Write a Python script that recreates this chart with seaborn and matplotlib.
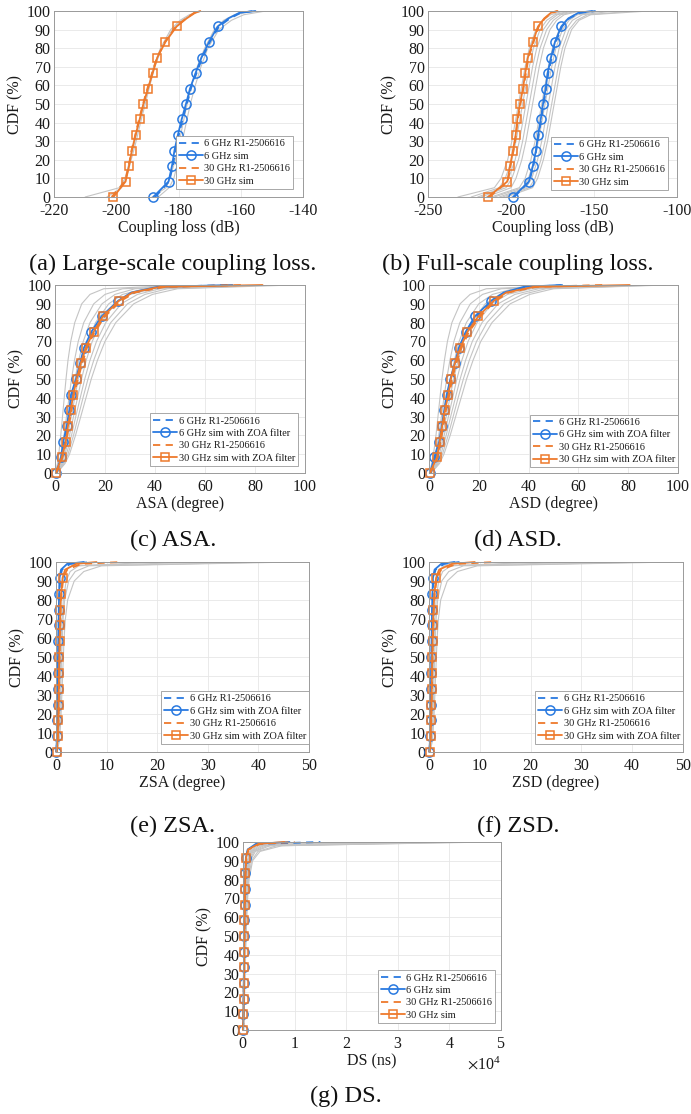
import matplotlib
matplotlib.use("Agg")
import matplotlib.pyplot as plt
import pandas as pd
import seaborn as sns

# ---------------- data ----------------
CDF_LEVELS = [0, 8.33, 16.67, 25, 33.33, 41.67, 50, 58.33, 66.67, 75, 83.33, 91.67, 96, 99, 100]
GRAY_LEVELS = [0, 5, 10, 20, 30, 40, 50, 60, 70, 80, 90, 95, 98, 100]

LABELS_SIM = ["6 GHz R1-2506616", "6 GHz sim", "30 GHz R1-2506616", "30 GHz sim"]
LABELS_ZOA = ["6 GHz R1-2506616", "6 GHz sim with ZOA filter",
              "30 GHz R1-2506616", "30 GHz sim with ZOA filter"]
CAPTIONS = ["(a) Large-scale coupling loss.", "(b) Full-scale coupling loss.",
            "(c) ASA.", "(d) ASD.", "(e) ZSA.", "(f) ZSD.", "(g) DS."]
XLABELS = ["Coupling loss (dB)", "Coupling loss (dB)", "ASA (degree)", "ASD (degree)",
           "ZSA (degree)", "ZSD (degree)", "DS (ns)"]
XTICKS_A = [-220, -200, -180, -160, -140]
XTICKS_B = [-250, -200, -150, -100]
XTICKS_C = [0, 20, 40, 60, 80, 100]
XTICKS_E = [0, 10, 20, 30, 40, 50]
XTICKS_G = [0, 10000, 20000, 30000, 40000, 50000]
YTICKS = [0, 10, 20, 30, 40, 50, 60, 70, 80, 90, 100]

# (a) large-scale coupling loss (dB)
a_6_ref = [-187.5, -183.0, -181.8, -181.0, -179.9, -178.7, -177.3, -176.0, -174.2, -172.3, -169.9, -167.0, -163.5, -160.0, -156.0]
a_6_sim = [-188.1, -183.2, -182.1, -181.3, -180.2, -179.0, -177.6, -176.3, -174.5, -172.6, -170.2, -167.4, -164.0, -160.5, -155.3]
a_30_ref = [-201.5, -197.2, -196.0, -195.1, -193.9, -192.7, -191.4, -190.0, -188.5, -186.9, -184.4, -180.8, -177.6, -175.0, -173.5]
a_30_sim = [-200.9, -197.0, -195.9, -195.0, -193.8, -192.5, -191.3, -189.8, -188.3, -186.8, -184.2, -180.6, -177.4, -174.7, -173.0]
a_gray = [
    [-186.5, -183.0, -181.5, -180.0, -178.8, -177.5, -176.2, -174.6, -172.8, -170.6, -167.0, -163.0, -159.0, -152.0],
    [-188.5, -184.0, -182.8, -181.0, -179.7, -178.5, -177.2, -175.8, -174.0, -171.6, -168.5, -165.5, -162.0, -156.0],
    [-210.0, -199.0, -197.2, -195.6, -194.0, -192.6, -191.0, -189.6, -188.0, -185.8, -182.5, -179.5, -176.5, -172.5],
    [-203.0, -198.3, -196.8, -195.2, -193.6, -192.2, -190.7, -189.2, -187.6, -185.4, -182.0, -179.0, -176.0, -173.5],
]

# (b) full-scale coupling loss (dB)
b_6_ref = [-198.0, -189.0, -186.5, -184.8, -183.4, -181.8, -180.4, -178.8, -177.5, -175.5, -173.0, -169.2, -165.0, -158.5, -149.0]
b_6_sim = [-198.8, -189.2, -186.8, -185.0, -183.7, -182.1, -180.7, -179.1, -177.9, -175.9, -173.5, -169.7, -165.5, -159.5, -151.2]
b_30_ref = [-213.0, -202.0, -200.3, -198.5, -197.0, -195.9, -194.3, -192.5, -191.0, -189.4, -186.4, -183.3, -179.6, -175.6, -171.5]
b_30_sim = [-213.9, -202.2, -200.6, -198.8, -197.2, -196.2, -194.6, -192.8, -191.4, -189.8, -186.8, -183.7, -180.0, -176.0, -172.3]
b_gray = [
    [-232, -210.0, -206.0, -202.0, -199.5, -197.5, -195.5, -193.5, -191.5, -189.0, -185.0, -181.0, -176.0, -168],
    [-224, -207.0, -203.5, -199.5, -197.0, -195.0, -193.0, -191.0, -189.0, -186.5, -182.5, -178.5, -173.5, -165],
    [-220, -205.0, -201.5, -197.5, -195.0, -193.0, -191.0, -189.0, -187.0, -184.5, -180.5, -176.5, -172.0, -163],
    [-218, -203.0, -199.5, -195.5, -193.0, -191.0, -189.0, -187.0, -185.0, -182.5, -178.5, -174.5, -170.0, -160],
    [-215, -200.0, -197.0, -193.5, -191.0, -189.0, -187.0, -185.0, -183.0, -180.5, -176.5, -172.5, -168.0, -158],
    [-212, -195.0, -191.5, -188.0, -185.5, -183.5, -181.5, -179.5, -177.5, -175.0, -171.0, -167.0, -162.0, -150],
    [-210, -193.0, -189.5, -186.0, -183.5, -181.5, -179.5, -177.5, -175.5, -173.0, -169.0, -165.0, -160.0, -145],
    [-207, -191.0, -187.5, -184.0, -181.5, -179.5, -177.5, -175.5, -173.5, -171.0, -167.0, -163.0, -157.0, -138],
    [-205, -189.0, -185.5, -182.0, -179.5, -177.5, -175.5, -173.5, -171.5, -169.0, -165.0, -160.5, -154.0, -125],
    [-203, -187.0, -184.0, -180.5, -178.0, -176.0, -174.0, -172.0, -170.0, -167.5, -163.5, -159.0, -152.0, -117],
]

# (c) ASA (degree)
c_6_ref = [0.6, 2.9, 3.9, 5.0, 6.2, 7.0, 8.9, 10.6, 12.4, 15.2, 19.6, 25.8, 31.5, 43.0, 70.0]
c_6_sim = [0.4, 2.4, 3.3, 4.7, 5.7, 6.4, 8.4, 10.0, 11.6, 14.5, 18.6, 25.3, 30.5, 41.0, 71.0]
c_30_ref = [0.5, 3.0, 4.5, 5.5, 6.6, 7.6, 9.2, 10.9, 12.8, 15.8, 20.0, 26.5, 32.0, 44.0, 75.0]
c_30_sim = [0.3, 2.7, 4.3, 5.2, 6.3, 7.3, 8.7, 10.3, 12.3, 15.4, 19.2, 25.6, 31.0, 42.0, 83.0]
c_gray = [
    [0.0, 1.0, 1.5, 2.3, 3.0, 3.7, 4.4, 5.2, 6.3, 7.9, 10.7, 14.0, 19.5, 52],
    [0.2, 1.6, 2.4, 3.6, 4.6, 5.6, 6.6, 7.8, 9.3, 11.5, 15.5, 20.0, 27.0, 65],
    [0.3, 2.0, 3.0, 4.4, 5.6, 6.8, 8.0, 9.5, 11.3, 14.0, 18.8, 24.0, 32.0, 70],
    [0.4, 2.4, 3.5, 5.1, 6.5, 7.9, 9.3, 11.0, 13.1, 16.2, 21.5, 27.0, 36.0, 75],
    [0.5, 2.8, 4.0, 5.8, 7.4, 9.0, 10.6, 12.5, 14.9, 18.3, 24.0, 30.0, 39.0, 80],
    [0.6, 3.2, 4.6, 6.6, 8.3, 10.1, 11.9, 14.0, 16.6, 20.3, 26.5, 33.0, 42.0, 85],
    [0.7, 3.6, 5.2, 7.4, 9.3, 11.2, 13.2, 15.5, 18.3, 22.3, 29.0, 36.0, 45.0, 90],
    [0.8, 4.0, 5.8, 8.2, 10.3, 12.4, 14.5, 17.0, 20.0, 24.3, 31.5, 39.0, 49.0, 95],
]

# (d) ASD (degree)
d_6_ref = [0.7, 2.6, 4.5, 5.5, 6.5, 7.5, 9.0, 10.8, 12.5, 15.3, 19.2, 25.8, 31.0, 40.0, 55.0]
d_6_sim = [0.5, 2.1, 4.1, 5.1, 6.1, 7.1, 8.6, 10.4, 12.0, 14.7, 18.4, 25.1, 30.0, 38.0, 53.0]
d_30_ref = [0.5, 3.5, 4.7, 5.7, 6.8, 8.2, 9.3, 10.9, 13.1, 16.0, 20.5, 26.8, 32.0, 43.0, 70.0]
d_30_sim = [0.3, 3.2, 4.3, 5.3, 6.4, 7.8, 8.8, 10.4, 12.6, 15.4, 19.8, 26.1, 31.0, 42.0, 80.6]
d_gray = [
    [0.0, 1.1, 1.8, 2.8, 3.6, 4.4, 5.2, 6.2, 7.4, 9.2, 12.5, 16.5, 23.0, 58],
    [0.2, 1.7, 2.6, 3.9, 5.0, 6.0, 7.1, 8.4, 10.0, 12.4, 16.6, 21.5, 29.0, 68],
    [0.3, 2.1, 3.2, 4.7, 6.0, 7.3, 8.6, 10.2, 12.1, 15.0, 20.0, 25.5, 34.0, 74],
    [0.4, 2.5, 3.7, 5.4, 6.9, 8.4, 9.9, 11.7, 13.9, 17.1, 22.6, 28.5, 37.5, 78],
    [0.5, 2.9, 4.2, 6.1, 7.8, 9.5, 11.2, 13.2, 15.7, 19.3, 25.2, 31.5, 41.0, 84],
    [0.6, 3.3, 4.8, 6.9, 8.7, 10.6, 12.5, 14.7, 17.4, 21.3, 27.8, 34.5, 44.0, 88],
    [0.7, 3.7, 5.4, 7.7, 9.7, 11.7, 13.8, 16.2, 19.1, 23.3, 30.2, 37.5, 47.0, 92],
    [0.9, 4.2, 6.0, 8.5, 10.7, 12.9, 15.1, 17.7, 20.8, 25.3, 32.6, 40.5, 50.0, 95],
]

# (e) ZSA (degree)
e_6_ref = [0.08, 0.22, 0.28, 0.33, 0.37, 0.41, 0.45, 0.5, 0.55, 0.6, 0.68, 0.8, 1.2, 2.8, 7.0]
e_6_sim = [0.05, 0.2, 0.25, 0.3, 0.33, 0.37, 0.4, 0.45, 0.5, 0.55, 0.62, 0.7, 1.0, 2.2, 5.5]
e_30_ref = [0.12, 0.4, 0.5, 0.55, 0.6, 0.66, 0.72, 0.78, 0.86, 0.95, 1.1, 1.45, 2.2, 5.0, 13.0]
e_30_sim = [0.1, 0.35, 0.45, 0.5, 0.55, 0.6, 0.65, 0.7, 0.8, 0.85, 1.0, 1.3, 1.8, 4.0, 8.0]
e_gray = [
    [0.10, 0.40, 0.50, 0.65, 0.75, 0.85, 0.95, 1.05, 1.20, 1.45, 2.0, 2.8, 4.5, 20],
    [0.20, 0.60, 0.80, 1.00, 1.15, 1.30, 1.45, 1.60, 1.85, 2.30, 3.6, 5.5, 9.0, 47],
    [0.10, 0.50, 0.60, 0.80, 0.90, 1.00, 1.10, 1.25, 1.40, 1.70, 2.5, 3.8, 6.5, 43],
    [0.05, 0.30, 0.40, 0.50, 0.55, 0.62, 0.70, 0.78, 0.88, 1.00, 1.3, 1.8, 3.0, 30],
]

# (f) ZSD (degree)
f_6_ref = [0.08, 0.28, 0.33, 0.38, 0.42, 0.46, 0.5, 0.55, 0.6, 0.66, 0.74, 0.86, 1.3, 3.0, 6.0]
f_6_sim = [0.05, 0.25, 0.3, 0.35, 0.38, 0.42, 0.46, 0.5, 0.55, 0.6, 0.68, 0.78, 1.1, 2.4, 5.0]
f_30_ref = [0.12, 0.35, 0.45, 0.52, 0.58, 0.64, 0.7, 0.77, 0.86, 0.97, 1.15, 1.55, 2.4, 5.5, 13.0]
f_30_sim = [0.1, 0.3, 0.4, 0.47, 0.52, 0.58, 0.63, 0.7, 0.78, 0.88, 1.05, 1.4, 2.0, 4.5, 9.0]
f_gray = [
    [0.10, 0.40, 0.50, 0.62, 0.72, 0.82, 0.92, 1.02, 1.15, 1.40, 1.9, 2.7, 4.3, 22],
    [0.20, 0.60, 0.80, 1.00, 1.15, 1.30, 1.45, 1.60, 1.85, 2.30, 3.6, 5.6, 9.5, 48],
    [0.10, 0.50, 0.60, 0.80, 0.90, 1.00, 1.10, 1.25, 1.40, 1.70, 2.5, 3.9, 6.8, 44],
    [0.05, 0.30, 0.40, 0.50, 0.55, 0.62, 0.70, 0.78, 0.88, 1.00, 1.3, 1.8, 3.0, 32],
]

# (g) DS (ns)
g_6_ref = [30, 90, 130, 160, 190, 220, 250, 285, 320, 370, 450, 600, 1000, 3000, 15000]
g_6_sim = [20, 80, 120, 150, 180, 210, 240, 270, 310, 360, 430, 560, 900, 2500, 9000]
g_30_ref = [30, 100, 140, 170, 200, 230, 265, 300, 345, 400, 480, 640, 1100, 3300, 10000]
g_30_sim = [20, 90, 130, 160, 190, 220, 250, 290, 330, 380, 460, 600, 1000, 3000, 8000]
g_gray = [
    [10, 60, 100, 160, 210, 260, 320, 390, 480, 620, 950, 1500, 3000, 20000],
    [15, 80, 130, 200, 260, 320, 390, 470, 580, 750, 1150, 1900, 4000, 30000],
    [20, 100, 160, 240, 310, 380, 460, 560, 690, 900, 1400, 2400, 5200, 40000],
    [25, 120, 190, 280, 360, 440, 530, 650, 800, 1050, 1650, 2900, 6500, 48000],
    [12, 70, 110, 180, 230, 290, 350, 430, 530, 680, 1050, 1700, 3500, 25000],
    [18, 90, 145, 220, 285, 350, 425, 515, 635, 820, 1270, 2150, 4600, 36000],
    [30, 140, 220, 320, 410, 500, 600, 730, 900, 1180, 1850, 3300, 7500, 45000],
    [8, 50, 90, 140, 185, 230, 280, 340, 420, 540, 830, 1300, 2600, 15000],
]

# ---------------- style ----------------
sns.set_theme(style="white")
plt.rcParams["font.family"] = ["Liberation Serif", "DejaVu Serif"]
plt.rcParams["mathtext.fontset"] = "stix"
plt.rcParams["axes.unicode_minus"] = False

BLUE = "#2a7ae0"
ORANGE = "#ee7a2c"
GRAY = "#c4c4c4"
SPINE = "#9a9a9a"
GRID = "#e6e6e6"
TXT = "#1a1a1a"

W, H = 691, 1114
fig = plt.figure(figsize=(W / 100, H / 100), dpi=100)
fig.patch.set_facecolor("white")


def make_axes(l, r, t, b):
    return fig.add_axes([l / W, 1 - b / H, (r - l) / W, (b - t) / H])


def draw(ax, gray, s6ref, s6sim, s30ref, s30sim, labels, xlim, xticks, xlabel, anchor):
    rows = []
    for i, curve in enumerate(gray):
        for x, p in zip(curve, GRAY_LEVELS):
            rows.append((i, x, p))
    df = pd.DataFrame(rows, columns=["curve", "x", "p"])
    sns.lineplot(data=df, x="x", y="p", units="curve", estimator=None, sort=False,
                 color=GRAY, linewidth=0.8, ax=ax, legend=False)
    handles = []
    specs = [
        (s6ref, BLUE, (0, (4, 3)), None, 0),
        (s6sim, BLUE, "-", "o", 6.6),
        (s30ref, ORANGE, (0, (4, 3)), None, 0),
        (s30sim, ORANGE, "-", "s", 5.4),
    ]
    for vals, color, ls, mk, ms in specs:
        kw = dict(color=color, linewidth=1.3, linestyle=ls, ax=ax, sort=False,
                  estimator=None, legend=False)
        if mk is not None:
            kw.update(marker=mk, markersize=ms, markevery=list(range(12)),
                      markerfacecolor="none", markeredgecolor=color, markeredgewidth=1.1)
        sns.lineplot(x=vals, y=CDF_LEVELS, **kw)
        line = ax.lines[-1]
        line.set_clip_on(False)
        handles.append(line)

    ax.set_xlim(*xlim)
    ax.set_ylim(0, 100)
    ax.set_xticks(xticks)
    ax.set_yticks(YTICKS)
    ax.grid(True, color=GRID, linewidth=0.6)
    ax.set_axisbelow(True)
    for s in ax.spines.values():
        s.set_visible(True)
        s.set_color(SPINE)
        s.set_linewidth(0.7)
    ax.tick_params(direction="in", length=3, width=0.6, color=SPINE,
                   labelsize=11.5, labelcolor=TXT)
    ax.tick_params(axis="x", pad=4.5)
    ax.tick_params(axis="y", pad=2.5)
    ax.set_xlabel(xlabel, fontsize=11.5, color=TXT, labelpad=0.5)
    ax.set_ylabel("CDF (%)", fontsize=11.5, color=TXT, labelpad=2)
    leg = ax.legend(handles, labels, loc="lower right", bbox_to_anchor=anchor,
                    bbox_transform=ax.transAxes, borderaxespad=0, fontsize=7.4,
                    frameon=True, fancybox=False, edgecolor=SPINE, framealpha=1,
                    handlelength=2.3, handletextpad=0.15, labelspacing=0.32,
                    borderpad=0.3)
    leg.get_frame().set_linewidth(0.6)
    for t in leg.get_texts():
        t.set_color(TXT)
    return ax


ax_a = make_axes(54, 303, 11, 197)
draw(ax_a, a_gray, a_6_ref, a_6_sim, a_30_ref, a_30_sim, LABELS_SIM,
     (-220, -140), XTICKS_A, XLABELS[0], (0.96, 0.043))
ax_b = make_axes(428, 677, 11, 197)
draw(ax_b, b_gray, b_6_ref, b_6_sim, b_30_ref, b_30_sim, LABELS_SIM,
     (-250, -100), XTICKS_B, XLABELS[1], (0.964, 0.038))
ax_c = make_axes(55, 305, 285, 473)
draw(ax_c, c_gray, c_6_ref, c_6_sim, c_30_ref, c_30_sim, LABELS_ZOA,
     (0, 100), XTICKS_C, XLABELS[2], (0.972, 0.037))
ax_d = make_axes(429, 678, 285, 473)
draw(ax_d, d_gray, d_6_ref, d_6_sim, d_30_ref, d_30_sim, LABELS_ZOA,
     (0, 100), XTICKS_C, XLABELS[3], (1.0, 0.03))
ax_e = make_axes(56, 309, 562, 752)
draw(ax_e, e_gray, e_6_ref, e_6_sim, e_30_ref, e_30_sim, LABELS_ZOA,
     (0, 50), XTICKS_E, XLABELS[4], (1.0, 0.042))
ax_f = make_axes(429, 683, 562, 752)
draw(ax_f, f_gray, f_6_ref, f_6_sim, f_30_ref, f_30_sim, LABELS_ZOA,
     (0, 50), XTICKS_E, XLABELS[5], (1.0, 0.042))
ax_g = make_axes(243, 501, 842, 1030)
draw(ax_g, g_gray, g_6_ref, g_6_sim, g_30_ref, g_30_sim, LABELS_SIM,
     (0, 50000), XTICKS_G, XLABELS[6], (0.977, 0.037))
ax_g.ticklabel_format(axis="x", style="sci", scilimits=(4, 4), useMathText=True)
ax_g.xaxis.get_offset_text().set_fontsize(11.5)
ax_g.xaxis.get_offset_text().set_color(TXT)

caption_pos = [(173, 264), (518, 264), (173, 540), (518, 540), (173, 826), (518, 826), (346, 1096)]
for (cx, cy), text in zip(caption_pos, CAPTIONS):
    fig.text(cx / W, 1 - cy / H, text, ha="center", va="center", fontsize=17.5, color="#111111")

fig.savefig("out.png", dpi=100, facecolor="white")
